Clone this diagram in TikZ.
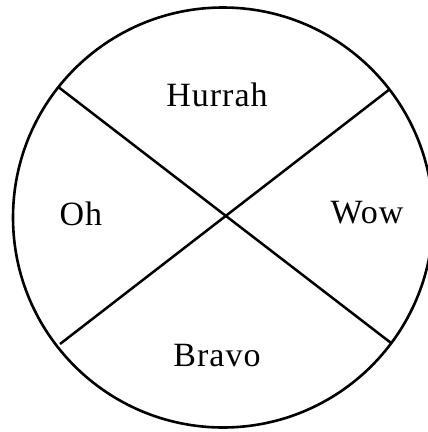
\documentclass[tikz,border=0pt]{standalone}
\usepackage{fontspec}
\setmainfont[LetterSpace=3]{Liberation Serif}
\begin{document}
\begin{tikzpicture}[x=1pt,y=-1pt,
  rim/.style={line width=2.6pt},
  divider/.style={line width=2.5pt},
  word/.style={anchor=base,inner sep=0pt,font=\fontsize{34}{38}\selectfont}]
\clip (0,0) rectangle (428,432);
\fill[white] (0,0) rectangle (428,432);
\node[circle,draw,rim,minimum size=420pt,inner sep=0pt] (c) at (223,217.5) {};
\coordinate (a1) at (58.7,87.3);
\coordinate (a2) at (390.7,342.7);
\coordinate (b1) at (60,344);
\coordinate (b2) at (390,89);
\draw[divider] (a1) -- (a2);
\draw[divider] (b1) -- (b2);
\node[word] (hurrah) at (217,106.7) {Hurrah};
\node[word] (oh) at (81,225) {Oh};
\node[word] (wow) at (367,223) {Wow};
\node[word] (bravo) at (217,366) {Bravo};
\end{tikzpicture}
\end{document}
